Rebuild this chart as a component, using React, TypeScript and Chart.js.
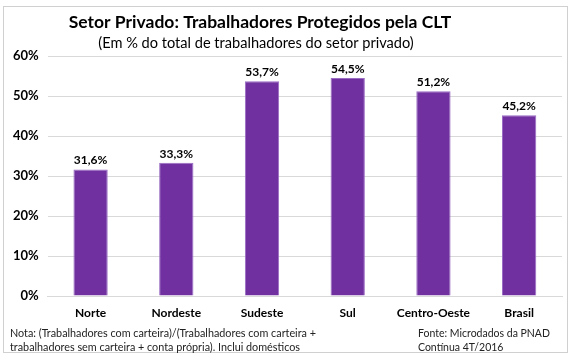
import React, { useEffect, useRef } from "react";
import { Chart, registerables } from "chart.js";
Chart.register(...registerables);

const categories = ["Norte", "Nordeste", "Sudeste", "Sul", "Centro-Oeste", "Brasil"];
const values = [31.6, 33.3, 53.7, 54.5, 51.2, 45.2];
const yTicks = [0, 10, 20, 30, 40, 50, 60];
const titleText = "Setor Privado: Trabalhadores Protegidos pela CLT";
const subtitleText = "(Em % do total de trabalhadores do setor privado)";
const noteLines = [
  "Nota: (Trabalhadores com carteira)/(Trabalhadores com carteira +",
  "trabalhadores sem carteira + conta própria). Inclui domésticos",
];
const sourceLines = ["Fonte: Microdados da PNAD", "Contínua 4T/2016"];

const FONT = "Lato, 'Open Sans', sans-serif";

const fmt = (v: number) => v.toFixed(1).replace(".", ",") + "%";

const decor = {
  id: "decor",
  beforeDraw(chart: any) {
    const ctx = chart.ctx;
    ctx.save();
    ctx.fillStyle = "#ffffff";
    ctx.fillRect(0, 0, chart.width, chart.height);
    ctx.strokeStyle = "#d0d0d0";
    ctx.lineWidth = 1;
    ctx.strokeRect(3.5, 6.5, 564, 346);
    ctx.restore();
  },
  afterDraw(chart: any) {
    const ctx = chart.ctx;
    ctx.save();
    ctx.fillStyle = "#000000";
    ctx.textAlign = "center";
    ctx.textBaseline = "middle";
    ctx.font = `bold 17.5px ${FONT}`;
    ctx.fillText(titleText, 260, 22);
    ctx.font = `14.6px ${FONT}`;
    ctx.fillText(subtitleText, 256, 43);

    // data labels
    const meta = chart.getDatasetMeta(0);
    ctx.font = `bold 12px ${FONT}`;
    ctx.textBaseline = "bottom";
    meta.data.forEach((bar: any, i: number) => {
      ctx.fillText(fmt(values[i]), bar.x, bar.y - 3);
    });

    // notes
    ctx.font = `10.8px ${FONT}`;
    ctx.textAlign = "left";
    ctx.textBaseline = "middle";
    ctx.fillStyle = "#222222";
    ctx.fillText(noteLines[0], 10, 334);
    ctx.fillText(noteLines[1], 10, 348);
    ctx.font = `10.5px ${FONT}`;
    ctx.fillText(sourceLines[0], 418, 334);
    ctx.fillText(sourceLines[1], 418, 348);
    ctx.restore();
  },
};

export default function App() {
  const ref = useRef<HTMLCanvasElement>(null);
  useEffect(() => {
    document.body.style.margin = "0";
    const chart = new Chart(ref.current!, {
      type: "bar",
      data: {
        labels: categories,
        datasets: [
          {
            data: values,
            backgroundColor: "#7030A0",
            borderColor: "#9a6cc4",
            borderWidth: 1,
            barPercentage: 0.4,
            categoryPercentage: 1,
          },
        ],
      },
      options: {
        animation: false,
        responsive: false,
        maintainAspectRatio: false,
        layout: { padding: { left: 4, right: 9, top: 56, bottom: 0 } },
        plugins: {
          legend: { display: false },
          tooltip: { enabled: false },
          title: { display: false },
        },
        scales: {
          x: {
            afterFit: (scale: any) => {
              scale.height = 62;
            },
            grid: { display: false, drawTicks: false },
            border: { display: true, color: "#d9d9d9" },
            ticks: {
              color: "#000",
              font: { family: FONT, size: 12, weight: "bold" },
              padding: 10,
            },
          },
          y: {
            min: 0,
            max: 60,
            afterBuildTicks: (axis: any) => {
              axis.ticks = yTicks.map((v) => ({ value: v }));
            },
            grid: { color: "#d9d9d9", drawTicks: false },
            border: { display: false },
            ticks: {
              color: "#000",
              font: { family: FONT, size: 13, weight: "bold" },
              padding: 9,
              callback: (v: any) => v + "%",
            },
          },
        },
      },
      plugins: [decor],
    });
    return () => chart.destroy();
  }, []);
  return (
    <div style={{ position: "relative", width: 571, height: 358 }}>
      <canvas ref={ref} width={571} height={358} />
    </div>
  );
}
